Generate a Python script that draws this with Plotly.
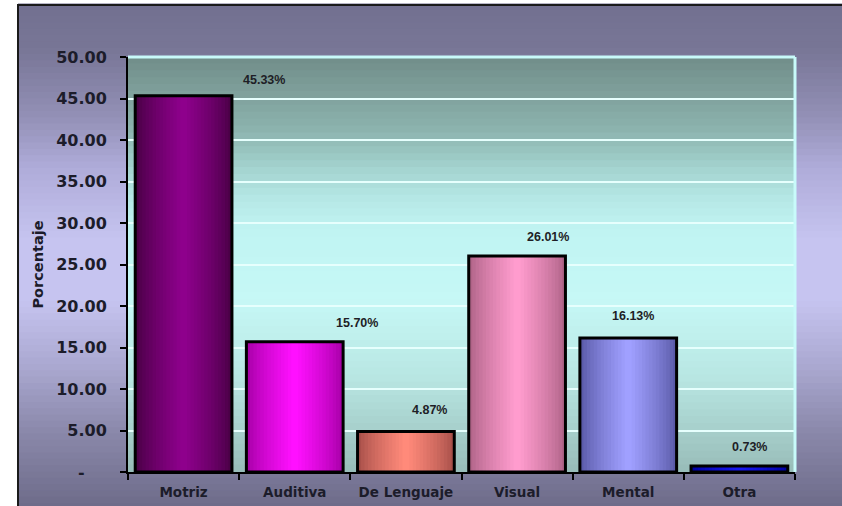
import plotly.graph_objects as go

# ---------------- data ----------------
categories = ["Motriz", "Auditiva", "De Lenguaje", "Visual", "Mental", "Otra"]
values = [45.33, 15.70, 4.87, 26.01, 16.13, 0.73]
value_labels = ["45.33%", "15.70%", "4.87%", "26.01%", "16.13%", "0.73%"]
y_tickvals = [0, 5, 10, 15, 20, 25, 30, 35, 40, 45, 50]
y_ticktext = ["-\u00a0\u00a0\u00a0\u00a0", "5.00", "10.00", "15.00", "20.00", "25.00",
              "30.00", "35.00", "40.00", "45.00", "50.00"]

# ---------------- style ----------------
W, H = 842, 506
ML, MR, MT, MB = 128, 47, 57, 34
PW, PH = W - ML - MR, H - MT - MB

# (edge colour, centre colour) per bar
bar_shades = [
    ("#4a0046", "#8e008c"),
    ("#a800a8", "#ff10ff"),
    ("#a8504a", "#ff8a7a"),
    ("#b06488", "#ff9cce"),
    ("#5a5aa8", "#a0a0ff"),
    ("#0000a0", "#1818f0"),
]
label_dx = [80, 62, 24, 31, 5, 10]
label_dy = [16, 19, 22, 19, 22, 19]
BAR_W = 0.87
N_LAYERS = 14
TXT = "#1c1c2a"


def hex2rgb(h):
    h = h.lstrip("#")
    return tuple(int(h[i:i + 2], 16) for i in (0, 2, 4))


def mix(c1, c2, t):
    a, b = hex2rgb(c1), hex2rgb(c2)
    return "rgb(%d,%d,%d)" % tuple(round(a[i] + (b[i] - a[i]) * t) for i in range(3))


def grad_color(stops, p):
    for (p0, c0), (p1, c1) in zip(stops, stops[1:]):
        if p0 <= p <= p1:
            return mix(c0, c1, (p - p0) / (p1 - p0) if p1 > p0 else 0)
    return stops[-1][1] if p > stops[-1][0] else stops[0][1]


fig = go.Figure()

# stacked layers of bars for a shaded (cylinder-like) look
for k in range(N_LAYERS):
    t = k / (N_LAYERS - 1)
    frac = 1 - k / N_LAYERS
    cols = [mix(e, c, t ** 0.8) for e, c in bar_shades]
    fig.add_trace(go.Bar(
        x=categories, y=values, width=BAR_W * frac,
        marker=dict(color=cols, line=dict(width=0)),
        hoverinfo="skip", showlegend=False,
    ))

# outline
fig.add_trace(go.Bar(
    x=categories, y=values, width=BAR_W,
    marker=dict(color="rgba(0,0,0,0)", line=dict(color="#000000", width=3)),
    showlegend=False,
))

# data labels
for c, v, lab, dx, dy in zip(categories, values, value_labels, label_dx, label_dy):
    fig.add_annotation(x=c, y=v, text="<b>%s</b>" % lab, showarrow=False,
                       xshift=dx, yshift=dy, yanchor="middle",
                       font=dict(family="Liberation Sans, Arial", size=12.5, color="#1e1e26"))

shapes = []
# outer background gradient (pixel stops)
outer_stops = [(4, "#727090"), (50, "#787696"), (117, "#9390b6"), (167, "#aeabd8"),
               (240, "#c6c4f0"), (300, "#c6c4f0"), (367, "#aaa8d0"), (433, "#8a88aa"),
               (506, "#6e6c8a")]
n = 80
for i in range(n):
    py0 = 4 + (506 + 4 - 4) * i / n
    py1 = 4 + (506 + 4 - 4) * (i + 1) / n
    col = grad_color(outer_stops, (py0 + py1) / 2)
    shapes.append(dict(type="rect", xref="paper", yref="paper", layer="below",
                       x0=(18 - ML) / PW, x1=(W + 5 - ML) / PW,
                       y0=(H - MB - py1 - 0.6) / PH, y1=(H - MB - py0 + 0.6) / PH,
                       fillcolor=col, line=dict(width=0)))
# frame border
shapes.append(dict(type="line", xref="paper", yref="paper", x0=(17 - ML) / PW, x1=(W + 5 - ML) / PW,
                   y0=(H - MB - 5) / PH, y1=(H - MB - 5) / PH, line=dict(color="#1a1a1a", width=2)))
shapes.append(dict(type="line", xref="paper", yref="paper", x0=(18 - ML) / PW, x1=(18 - ML) / PW,
                   y0=(H - MB - 4) / PH, y1=(H - MB - 510) / PH, line=dict(color="#1a1a1a", width=2)))

# plot area gradient
plot_stops = [(57, "#718d89"), (130, "#8cb3ae"), (170, "#a4d4d0"), (200, "#b6e8e6"),
              (230, "#c0f4f2"), (300, "#c6f8f6"), (380, "#b8e6e2"), (472, "#98bcb8")]
m = 60
for i in range(m):
    py0 = MT + PH * i / m
    py1 = MT + PH * (i + 1) / m
    col = grad_color(plot_stops, (py0 + py1) / 2)
    shapes.append(dict(type="rect", xref="x domain", yref="y domain", layer="below",
                       x0=0, x1=1, y0=max(0, (H - MB - py1 - 0.6) / PH),
                       y1=min(1, (H - MB - py0 + 0.6) / PH),
                       fillcolor=col, line=dict(width=0)))
# light border at top/right of plot area
shapes.append(dict(type="line", xref="x domain", yref="y domain", x0=1, x1=1, y0=0, y1=1,
                   line=dict(color="#c8fafa", width=3)))
shapes.append(dict(type="line", xref="x domain", yref="y domain", x0=0, x1=1, y0=1, y1=1,
                   line=dict(color="#c8fafa", width=3)))

fig.update_layout(
    width=W, height=H,
    margin=dict(l=ML, r=MR, t=MT, b=MB, autoexpand=False),
    paper_bgcolor="#ffffff",
    plot_bgcolor="rgba(0,0,0,0)",
    barmode="overlay",
    shapes=shapes,
    showlegend=False,
    font=dict(family="Liberation Sans, Arial", color=TXT),
)
fig.update_xaxes(
    type="category", showgrid=False, showline=True, linecolor="#000000", linewidth=2,
    ticks="outside", tickson="boundaries", ticklen=6, tickcolor="#000000", tickwidth=1.5,
    ticklabelstandoff=7, automargin=False,
    tickfont=dict(size=13.5, family="DejaVu Sans", color=TXT),
    tickprefix="<b>", ticksuffix="</b>", range=[-0.5, 5.5],
)
fig.update_yaxes(
    range=[0, 50], tickvals=y_tickvals, ticktext=["<b>%s</b>" % t for t in y_ticktext],
    showgrid=True, gridcolor="#e6fffd", gridwidth=2,
    showline=True, linecolor="#000000", linewidth=2,
    ticks="outside", ticklen=6, tickcolor="#000000", tickwidth=1.5,
    ticklabelstandoff=10, automargin=False,
    tickfont=dict(size=16, family="DejaVu Sans", color=TXT),
    title=dict(text="<b>Porcentaje</b>", standoff=9,
               font=dict(size=14.5, family="DejaVu Sans", color=TXT)),
    zeroline=False,
)

fig.write_html("out.html", config={"displayModeBar": False},
               post_script="document.body.style.margin='0px';")
